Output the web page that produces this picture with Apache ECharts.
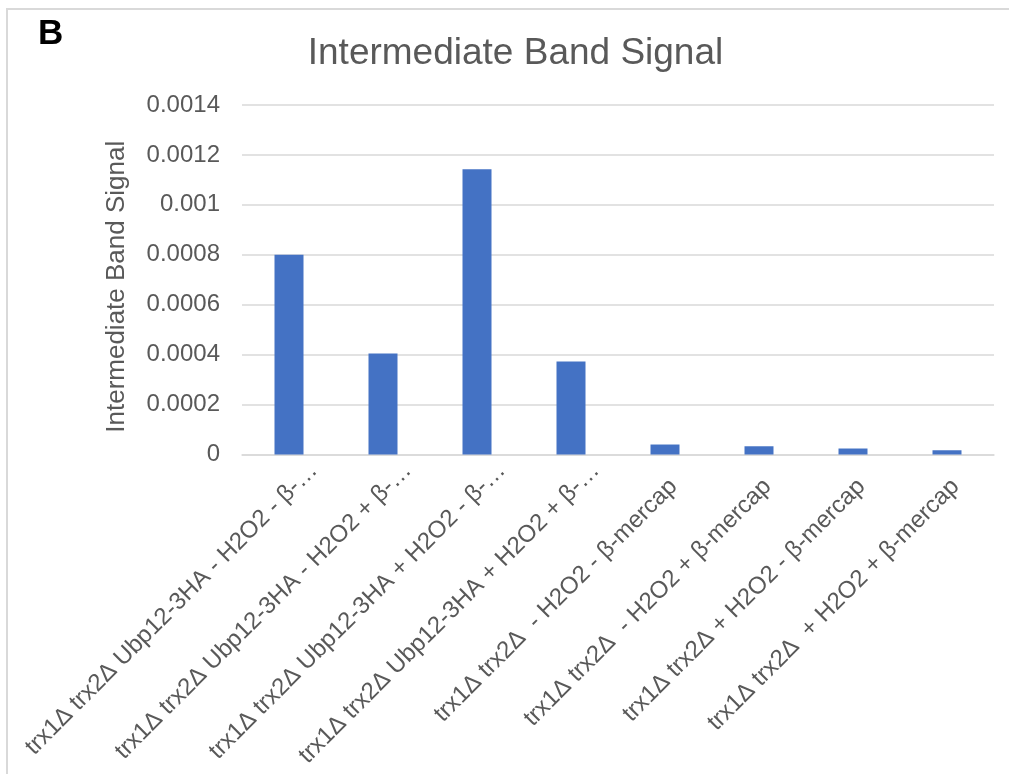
<!DOCTYPE html>
<html>
<head>
<meta charset="utf-8">
<script src="https://cdn.jsdelivr.net/npm/echarts@6/dist/echarts.min.js"></script>
<style>
html,body{margin:0;padding:0;background:#fff;}
#chart{width:1009px;height:774px;}
</style>
</head>
<body>
<div id="chart"></div>
<script>
var chartTitle = 'Intermediate Band Signal';
var yAxisName = 'Intermediate Band Signal';
var panelLabel = 'B';
var categories = [
  'trx1Δ trx2Δ Ubp12-3HA - H2O2 - β-…',
  'trx1Δ trx2Δ Ubp12-3HA - H2O2 + β-…',
  'trx1Δ trx2Δ Ubp12-3HA + H2O2 - β-…',
  'trx1Δ trx2Δ Ubp12-3HA + H2O2 + β-…',
  'trx1Δ trx2Δ  - H2O2 - β-mercap',
  'trx1Δ trx2Δ  - H2O2 + β-mercap',
  'trx1Δ trx2Δ + H2O2 - β-mercap',
  'trx1Δ trx2Δ  + H2O2 + β-mercap'
];
var values = [0.0008, 0.000405, 0.001143, 0.000373, 0.00004, 0.000033, 0.000024, 0.000017];
var yTickLabels = ['0', '0.0002', '0.0004', '0.0006', '0.0008', '0.001', '0.0012', '0.0014'];

var FONT = '"Liberation Sans", Arial, sans-serif';
var chart = echarts.init(document.getElementById('chart'), null, {renderer: 'canvas'});
chart.setOption({
  backgroundColor: '#ffffff',
  animation: false,
  graphic: [
    {type: 'rect', shape: {x: 7, y: 9, width: 1200, height: 1000},
     style: {fill: 'none', stroke: '#d9d9d9', lineWidth: 2}, silent: true},
    {type: 'text', left: 38, top: 17,
     style: {text: panelLabel, font: 'bold 35px ' + FONT, fill: '#000000'}},
    {type: 'text', x: 515.5, y: 35,
     style: {text: chartTitle, font: '37px ' + FONT, fill: '#595959', align: 'center', verticalAlign: 'top'}}
  ],
  grid: {left: 242, right: 15, top: 105, bottom: 319.5, containLabel: false},
  xAxis: {
    type: 'category',
    data: categories,
    axisLine: {show: true, lineStyle: {color: '#d9d9d9', width: 1.5}},
    axisTick: {show: false},
    axisLabel: {
      interval: 0,
      rotate: 45,
      margin: 20,
      verticalAlign: 'top',
      color: '#595959',
      fontSize: 24,
      fontFamily: FONT,
      formatter: function (v) {
        var i = v.indexOf('…');
        if (i < 0) return '{a|' + v + '}';
        return '{a|' + v.slice(0, i) + '}{e|…}';
      },
      rich: {
        a: {align: 'left', color: '#595959', fontSize: 24, fontFamily: FONT},
        e: {align: 'left', width: 1, color: '#595959', fontSize: 24, fontFamily: FONT}
      }
    }
  },
  yAxis: {
    type: 'value',
    min: 0,
    max: 0.0014,
    interval: 0.0002,
    name: yAxisName,
    nameLocation: 'middle',
    nameGap: 112,
    nameTextStyle: {color: '#595959', fontSize: 26, fontFamily: FONT, padding: [0, 14, 0, 0]},
    axisLine: {show: false},
    axisTick: {show: false},
    splitLine: {lineStyle: {color: '#d9d9d9', width: 1.5}},
    axisLabel: {
      margin: 22,
      color: '#595959',
      fontSize: 24,
      fontFamily: FONT,
      formatter: function (v) {
        var idx = Math.round(v / 0.0002);
        return yTickLabels[idx] !== undefined ? yTickLabels[idx] : String(v);
      }
    }
  },
  series: [{
    type: 'bar',
    data: values,
    barWidth: 29,
    itemStyle: {color: '#4472C4'}
  }]
});
</script>
</body>
</html>
